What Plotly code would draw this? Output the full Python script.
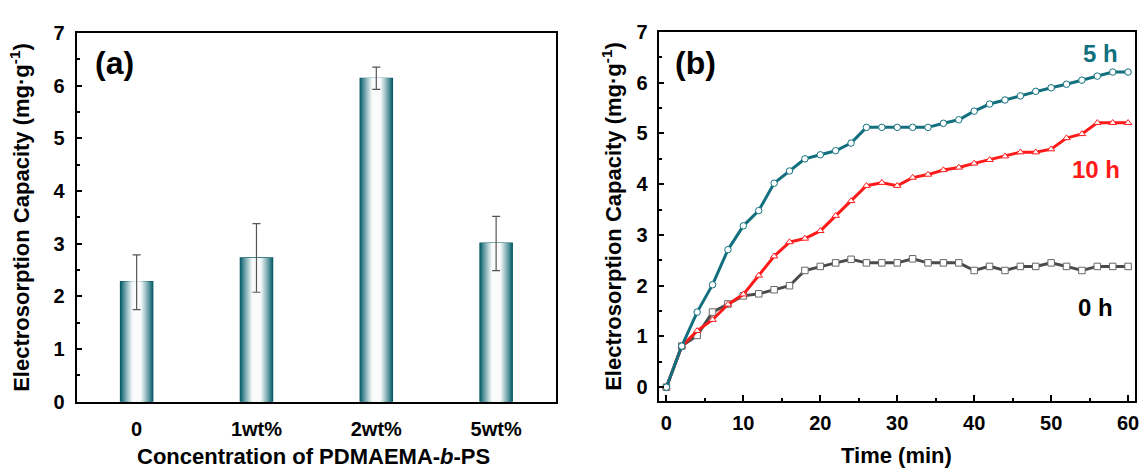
import plotly.graph_objects as go

# ---------------- data ----------------
categories = ["0", "1wt%", "2wt%", "5wt%"]
capacity = [2.28, 2.73, 6.14, 3.01]
err_plus = [0.51, 0.65, 0.21, 0.51]
err_minus = [0.53, 0.65, 0.21, 0.52]

time_min = [0, 2, 4, 6, 8, 10, 12, 14, 16, 18, 20, 22, 24, 26, 28, 30,
            32, 34, 36, 38, 40, 42, 44, 46, 48, 50, 52, 54, 56, 58, 60]
cap_5h = [0.0, 0.81, 1.48, 2.02, 2.71, 3.18, 3.48, 4.02, 4.26, 4.50, 4.58, 4.66, 4.81, 5.12, 5.12, 5.12,
          5.12, 5.12, 5.20, 5.27, 5.44, 5.58, 5.66, 5.74, 5.83, 5.90, 5.97, 6.05, 6.13, 6.21, 6.21]
cap_10h = [0.0, 0.81, 1.11, 1.33, 1.63, 1.83, 2.20, 2.58, 2.86, 2.93, 3.08, 3.38, 3.67, 3.97, 4.03, 3.97,
           4.13, 4.19, 4.28, 4.33, 4.41, 4.48, 4.55, 4.63, 4.63, 4.69, 4.91, 4.99, 5.21, 5.21, 5.21]
cap_0h = [0.0, 0.81, 1.02, 1.48, 1.64, 1.80, 1.84, 1.92, 2.00, 2.30, 2.38, 2.45, 2.52, 2.45, 2.45, 2.45,
          2.53, 2.45, 2.45, 2.45, 2.30, 2.38, 2.30, 2.38, 2.38, 2.45, 2.38, 2.30, 2.38, 2.38, 2.38]

# ---------------- style ----------------
FONT = "Liberation Sans"
TEAL = "#12707E"
TEAL_DARK = "#0B5A66"
RED = "#FF1A1A"
GRAY = "#4A4A4A"

W, H = 1143, 471
def px_x(p): return p / W
def px_y(p): return 1 - p / H

fig = go.Figure()

# gradient bars (layered overlay bars)
N = 16
bar_w = 0.27
def lerp(c1, c2, t):
    a = [int(c1[i:i+2], 16) for i in (1, 3, 5)]
    b = [int(c2[i:i+2], 16) for i in (1, 3, 5)]
    return "#" + "".join(f"{round(a[i] + (b[i]-a[i])*t):02x}" for i in range(3))

for k in range(N):
    frac = k / N
    t = min(1.0, (frac / 0.78) ** 0.9)
    col = lerp("#0E6471", "#FAFCFC", t)
    fig.add_trace(go.Bar(
        x=list(range(len(categories))), y=capacity,
        width=bar_w * (1 - frac * 0.92),
        marker=dict(color=col,
                    line=dict(color=TEAL_DARK, width=1.2 if k == 0 else 0)),
        xaxis="x", yaxis="y", showlegend=False, hoverinfo="skip",
    ))

fig.add_trace(go.Scatter(
    x=list(range(len(categories))), y=capacity, mode="markers",
    marker=dict(size=1, color="rgba(0,0,0,0)"),
    error_y=dict(type="data", array=err_plus, arrayminus=err_minus,
                 color="#555555", thickness=1.2, width=4),
    xaxis="x", yaxis="y", showlegend=False,
))

# line series
def series(y, color, sym, mcol):
    return go.Scatter(
        x=time_min, y=y, mode="lines+markers",
        line=dict(color=color, width=3),
        marker=dict(symbol=sym, size=6.5, color="white",
                    line=dict(color=mcol, width=1)),
        xaxis="x2", yaxis="y2", showlegend=False,
    )

fig.add_trace(series(cap_0h, GRAY, "square", "#666666"))
fig.add_trace(series(cap_10h, RED, "triangle-up", RED))
fig.add_trace(series(cap_5h, TEAL, "circle", TEAL))

tickfont = dict(family=FONT, size=20, color="black", weight="bold")
axis_common = dict(showline=True, linecolor="black", linewidth=2, mirror=True,
                   showgrid=False, zeroline=False, tickfont=tickfont,
                   ticklabeloverflow="allow")

fig.update_layout(
    width=W, height=H,
    margin=dict(l=0, r=0, t=0, b=0),
    paper_bgcolor="white", plot_bgcolor="white",
    barmode="overlay",
    font=dict(family=FONT, color="black"),
    xaxis=dict(domain=[px_x(77), px_x(558)], range=[-0.5, 3.5],
               tickmode="array", tickvals=list(range(len(categories))),
               ticktext=categories, ticks="", ticklabelstandoff=8,
               **axis_common),
    yaxis=dict(domain=[px_y(410), px_y(23)], range=[0, 7], dtick=1,
               ticks="inside", ticklen=5, tickwidth=2, tickcolor="black",
               minor=dict(dtick=0.5, ticks="inside", ticklen=3, tickwidth=2, tickcolor="black"),
               ticklabelstandoff=6, anchor="x", **axis_common),
    xaxis2=dict(domain=[px_x(661), px_x(1139)], range=[-1.0, 60.9], dtick=10,
                ticks="inside", ticklen=6, tickwidth=2, tickcolor="black",
                minor=dict(dtick=5, ticks="inside", ticklen=3, tickwidth=2, tickcolor="black"),
                ticklabelstandoff=3, anchor="y2", **axis_common),
    yaxis2=dict(domain=[px_y(409), px_y(22)], range=[-0.27, 7], dtick=1,
                ticks="inside", ticklen=5, tickwidth=2, tickcolor="black",
                minor=dict(dtick=0.5, ticks="inside", ticklen=3, tickwidth=2, tickcolor="black"),
                ticklabelstandoff=5, anchor="x2", **axis_common),
)

def ann(text, x, y, size, color="black", angle=0):
    fig.add_annotation(text=text, x=px_x(x), y=px_y(y), xref="paper", yref="paper",
                       showarrow=False, textangle=angle, xanchor="center", yanchor="middle",
                       font=dict(family=FONT, size=size, color=color, weight="bold"))

ytitle = "Electrosorption Capacity (mg·g<sup>-1</sup>)"
ann(ytitle, 20, 216, 22, angle=-90)
ann(ytitle, 614, 215, 22, angle=-90)
ann("Concentration of PDMAEMA-<i>b</i>-PS", 315, 467, 22)
ann("Time (min)", 900, 466, 22)
ann("(a)", 115, 55, 32)
ann("(b)", 698, 55, 32)
ann("5 h", 1104, 45, 24, TEAL)
ann("10 h", 1100, 166, 24, RED)
ann("0 h", 1099, 311, 24)

fig.write_html("out.html")
